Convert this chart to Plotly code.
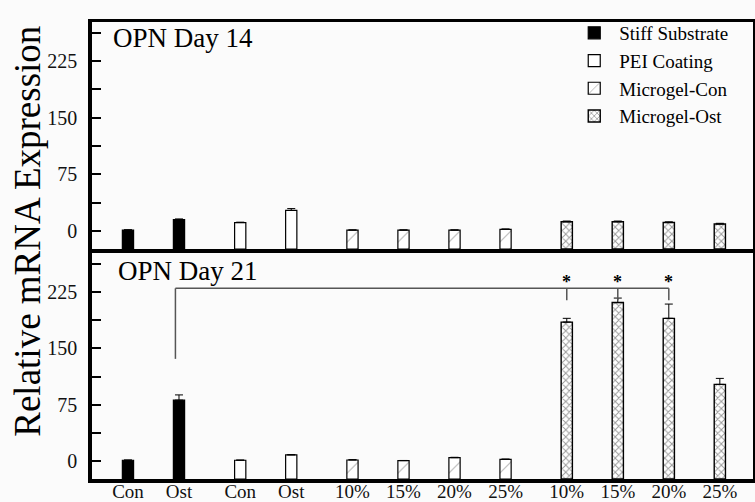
import plotly.graph_objects as go
from plotly.subplots import make_subplots

# ---------------- data ----------------
series_names = ["Stiff Substrate", "PEI Coating", "Microgel-Con", "Microgel-Ost"]
stiff_labels = ["Con", "Ost"]
pei_labels = ["Con", "Ost"]
mc_con_labels = ["10%", "15%", "20%", "25%"]
mc_ost_labels = ["10%", "15%", "20%", "25%"]

# OPN Day 14
d14_stiff = [1, 15]
d14_pei = [11, 27]
d14_mc_con = [1, 1, 1, 2]
d14_mc_ost = [12, 12, 11, 9]
e14_stiff = [0.5, 0.8]
e14_pei = [0.5, 2.5]
e14_mc_con = [0.3, 0.3, 0.3, 0.5]
e14_mc_ost = [1, 1, 1, 1]

# OPN Day 21
d21_stiff = [1, 81]
d21_pei = [1, 8]
d21_mc_con = [1.3, 0.5, 4.4, 2.2]
d21_mc_ost = [185, 211, 190, 102]
e21_stiff = [0.3, 7]
e21_pei = [0.2, 0.6]
e21_mc_con = [0.5, 0.2, 0.5, 0.3]
e21_mc_ost = [5, 6, 19, 8]

y_ticks = [0, 75, 150, 225]
panel_titles = ["OPN Day 14", "OPN Day 21"]

# significance (Day 21): reference bar -> compared bars
sig_ref = (0, 1)            # Stiff Substrate, Ost
sig_targets = [(3, 0), (3, 1), (3, 2)]  # Microgel-Ost 10/15/20%
sig_level = 230
sig_tick_bottom = 214
sig_ref_bottom = 136
sig_star_y = 238

# ---------------- layout helpers ----------------
Y_RANGES = [(-24, 276.5), (-24, 277)]
GROUP_GAP = 1.2
BAR_W = 0.22

group_labels = [stiff_labels, pei_labels, mc_con_labels, mc_ost_labels]
positions = []
p = 1.0
for gi, labs in enumerate(group_labels):
    if gi > 0:
        p += GROUP_GAP - 1
    pos = []
    for _ in labs:
        pos.append(p)
        p += 1
    positions.append(pos)

FONT = "Liberation Serif"

styles = [
    dict(color="black", line=dict(color="black", width=1.2)),
    dict(color="white", line=dict(color="black", width=1.2)),
    dict(color="white", line=dict(color="black", width=1.2),
         pattern=dict(shape="/", size=12, solidity=0.08, fgcolor="#222", bgcolor="white")),
    dict(color="white", line=dict(color="black", width=1.4),
         pattern=dict(shape="x", size=5, solidity=0.35, fgcolor="#333", bgcolor="white")),
]

fig = make_subplots(rows=2, cols=1, shared_xaxes=True, vertical_spacing=0)

days = [
    ([d14_stiff, d14_pei, d14_mc_con, d14_mc_ost], [e14_stiff, e14_pei, e14_mc_con, e14_mc_ost]),
    ([d21_stiff, d21_pei, d21_mc_con, d21_mc_ost], [e21_stiff, e21_pei, e21_mc_con, e21_mc_ost]),
]

for row, (vals, errs) in enumerate(days, start=1):
    y_min = Y_RANGES[row - 1][0]
    for gi, name in enumerate(series_names):
        v = vals[gi]
        fig.add_trace(go.Bar(
            x=positions[gi],
            y=[val - y_min for val in v],
            base=y_min,
            width=BAR_W,
            name=name,
            showlegend=(row == 1),
            marker=styles[gi],
            error_y=dict(type="data", symmetric=False, array=errs[gi],
                         arrayminus=[0] * len(v), color="black", thickness=1, width=4),
        ), row=row, col=1)

all_pos = [x for g in positions for x in g]
all_labels = [l for g in group_labels for l in g]

line_common = dict(showline=True, linecolor="black",
                   showgrid=False, zeroline=False, automargin=False)
# top panel: only the top frame line (divider comes from the bottom panel)
fig.update_xaxes(range=[0.295, 13.25], ticks="", side="top", mirror=False, linewidth=3,
                 showticklabels=False, **line_common, row=1, col=1)
fig.update_xaxes(range=[0.295, 13.25], ticks="", mirror=True, linewidth=4,
                 tickvals=all_pos, ticktext=all_labels, ticklabelstandoff=-8,
                 tickfont=dict(family=FONT, size=19, color="#111"),
                 **line_common, row=2, col=1)
for r in (1, 2):
    fig.update_yaxes(range=list(Y_RANGES[r - 1]), tickvals=y_ticks, ticks="inside", ticklen=9,
                     tickwidth=2, tickcolor="black", ticklabelstandoff=7, mirror=True,
                     linewidth=3.5,
                     minor=dict(tickvals=[t + 37.5 for t in y_ticks], ticks="inside",
                                ticklen=9, tickwidth=2, tickcolor="black"),
                     tickfont=dict(family=FONT, size=20, color="#111"),
                     **line_common, row=r, col=1)

# panel domains (small gap holds the divider line)
fig.update_yaxes(domain=[0.5033, 1.0], row=1, col=1)
fig.update_yaxes(domain=[0.0, 0.4945], row=2, col=1)

# significance bracket (bottom panel, data coords)
x_ref = positions[sig_ref[0]][sig_ref[1]] - 0.07
x_targets = [positions[g][i] for g, i in sig_targets]
line_style = dict(color="#555", width=1.5)
fig.add_shape(type="line", x0=x_ref, x1=x_ref, y0=sig_ref_bottom, y1=sig_level,
              line=line_style, xref="x2", yref="y2")
fig.add_shape(type="line", x0=x_ref, x1=max(x_targets), y0=sig_level, y1=sig_level,
              line=line_style, xref="x2", yref="y2")
for xt in x_targets:
    fig.add_shape(type="line", x0=xt, x1=xt, y0=sig_tick_bottom, y1=sig_level,
                  line=line_style, xref="x2", yref="y2")
    fig.add_annotation(x=xt, y=sig_star_y, text="<b>*</b>", showarrow=False, xref="x2", yref="y2",
                       font=dict(family=FONT, size=18, color="black"), yanchor="middle")

# panel titles
fig.add_annotation(x=0.028, y=0.966, xref="paper", yref="paper", text=panel_titles[0],
                   showarrow=False, xanchor="left", yanchor="middle",
                   font=dict(family=FONT, size=27, color="black"))
fig.add_annotation(x=0.037, y=0.456, xref="paper", yref="paper", text=panel_titles[1],
                   showarrow=False, xanchor="left", yanchor="middle",
                   font=dict(family=FONT, size=27, color="black"))

# y-axis title
fig.add_annotation(x=-0.097, y=0.543, xref="paper", yref="paper", text="Relative mRNA Expression",
                   showarrow=False, textangle=-90, xanchor="center", yanchor="middle",
                   font=dict(family=FONT, size=37, color="black"))

fig.update_layout(
    width=755, height=502,
    margin=dict(l=92, r=2, t=22, b=23, autoexpand=False),
    paper_bgcolor="#fbfbfb", plot_bgcolor="#fbfbfb",
    barmode="overlay",
    legend=dict(x=0.722, y=1.0175, xanchor="left", yanchor="top", bgcolor="rgba(0,0,0,0)",
                font=dict(family=FONT, size=19, color="black"), itemwidth=40,
                tracegroupgap=0),
)

fig.write_html("out.html", config={"displayModeBar": False},
               post_script="document.body.style.margin='0';document.body.style.overflow='hidden';")
